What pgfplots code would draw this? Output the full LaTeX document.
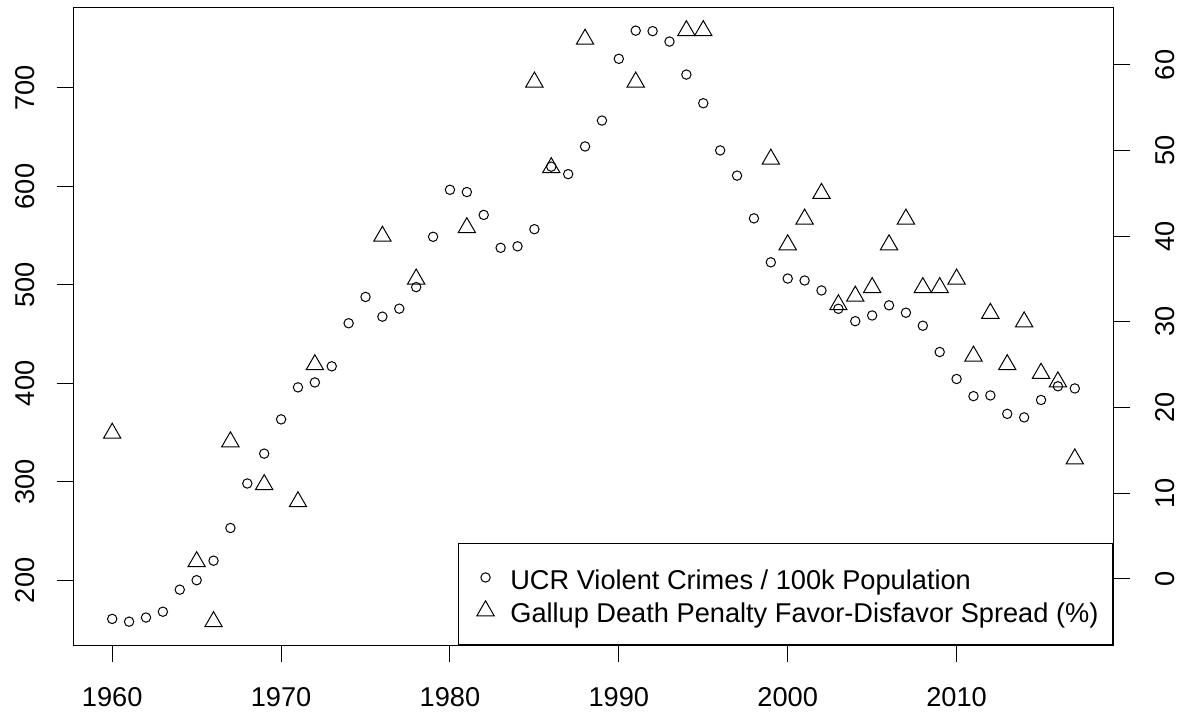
\documentclass[border=0pt]{standalone}
\usepackage{fontspec}
\setmainfont{Liberation Sans}
\usepackage{pgfplots}
\usepackage{pgfplotstable}
\pgfplotsset{compat=1.18}
\newcommand{\rfont}{\fontsize{13.6}{16}\selectfont}
\pgfplotstableread{
year crime
1960 160.9
1961 158.1
1962 162.3
1963 168.2
1964 190.6
1965 200.2
1966 220.0
1967 253.2
1968 298.4
1969 328.7
1970 363.5
1971 396.0
1972 401.0
1973 417.4
1974 461.1
1975 487.8
1976 467.8
1977 475.9
1978 497.8
1979 548.9
1980 596.6
1981 594.3
1982 571.1
1983 537.7
1984 539.2
1985 556.6
1986 620.1
1987 612.5
1988 640.6
1989 666.9
1990 729.6
1991 758.2
1992 757.7
1993 747.1
1994 713.6
1995 684.5
1996 636.6
1997 611.0
1998 567.6
1999 523.0
2000 506.5
2001 504.5
2002 494.4
2003 475.8
2004 463.2
2005 469.0
2006 479.3
2007 471.8
2008 458.6
2009 431.9
2010 404.5
2011 387.1
2012 387.8
2013 369.1
2014 365.5
2015 383.2
2016 397.1
2017 394.9
}\crimetable
\pgfplotstableread{
year spread
1960 17
1965 2
1966 -5
1967 16
1969 11
1971 9
1972 25
1976 40
1978 35
1981 41
1985 58
1986 48
1988 63
1991 58
1994 64
1995 64
1999 49
2000 39
2001 42
2002 45
2003 32
2004 33
2005 34
2006 39
2007 42
2008 34
2009 34
2010 35
2011 26
2012 31
2013 25
2014 30
2015 24
2016 23
2017 14
}\gallup
\begin{document}
\begin{tikzpicture}
\pgfplotsset{
  base/.style={
    scale only axis, width=519.8pt, height=319.15pt,
    xmin=1957.72, xmax=2019.28,
    tick align=outside, major tick length=8.5pt,
    every tick/.style={black, line width=0.5pt},
    tick label style={font=\rfont, inner sep=0pt},
    /pgf/number format/assume math mode=true,
    /pgf/number format/1000 sep={},
    axis line style={line width=0.5pt},
    legend image code/.code={\path (-6.15pt,0pt) (12.15pt,0pt); \draw[##1] plot coordinates {(0pt,0pt)};},
  }
}
\begin{axis}[base, ymin=134.1, ymax=782.2,
  xtick={1960,1970,...,2010}, xtick pos=bottom,
  ytick={200,300,...,700}, ytick pos=left,
  xticklabel style={anchor=north}, xticklabel shift=12.2pt,
  yticklabel style={rotate=90, anchor=south}, yticklabel shift=10.85pt,
]
\addplot[only marks, mark=o, mark size=2.35pt, line width=0.5pt, black] table[x=year, y=crime] {\crimetable};
\end{axis}
\begin{axis}[base, ymin=-7.76, ymax=66.76,
  axis x line=none, axis y line*=right,
  ytick={0,10,...,60},
  yticklabel style={rotate=90, anchor=north}, yticklabel shift=12.35pt,
  legend cell align=left,
  legend style={at={(1,0)}, anchor=south east, draw=black, line width=0.5pt, fill=white,
    font=\rfont, inner xsep=7.2pt, inner ysep=8pt, row sep=-1.33pt,
    nodes={inner sep=0pt, text height=15pt, text depth=3pt}},
]
\addlegendimage{only marks, mark=o, mark size=2.35pt, line width=0.5pt, black}
\addlegendentry{UCR Violent Crimes / 100k Population}
\addplot[only marks, mark=triangle, mark size=5pt, line width=0.5pt, black] table[x=year, y=spread] {\gallup};
\addlegendentry{Gallup Death Penalty Favor-Disfavor Spread (\%)}
\end{axis}
\pgfresetboundingbox
\path[use as bounding box] (-36.85pt,-33.85pt) rectangle (554.65pt,322.65pt);
\end{tikzpicture}
\end{document}
